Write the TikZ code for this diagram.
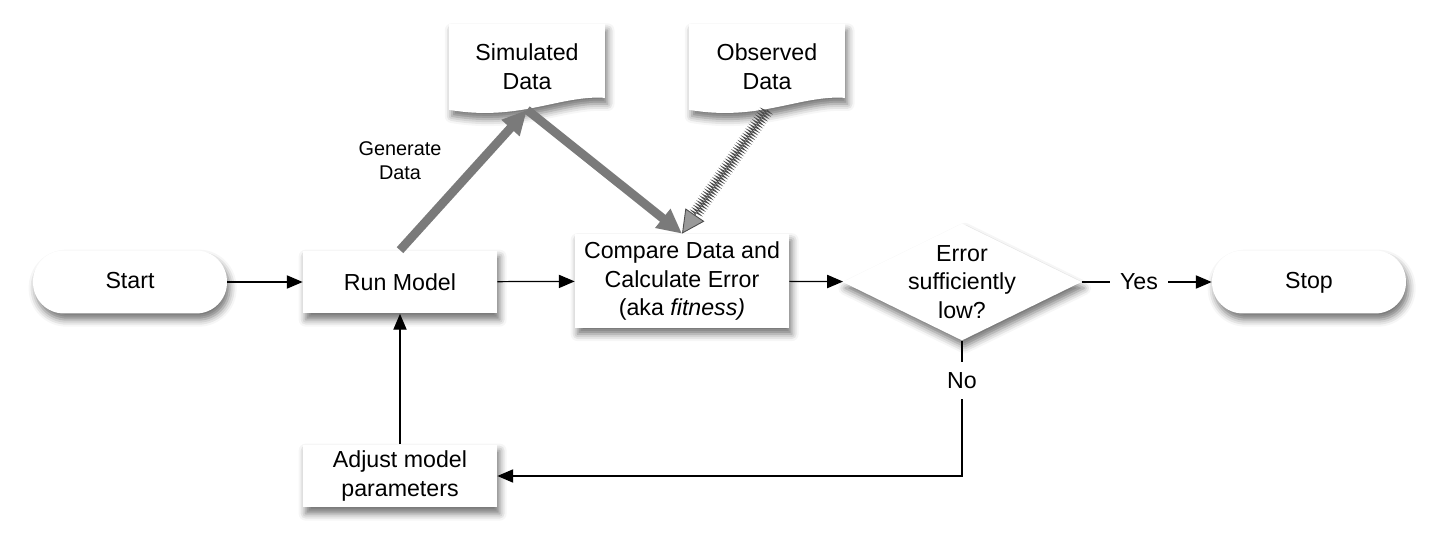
\documentclass[tikz,border=0pt]{standalone}
\usepackage{fontspec}
\setmainfont{Liberation Sans}
\usetikzlibrary{backgrounds,shapes.geometric,arrows.meta,shadows.blur,decorations.pathmorphing,calc}

\begin{document}
\begin{tikzpicture}
		[x=0.02cm, y=-0.02cm,
		 >={Triangle[length=9pt,width=7.5pt]},
		 every node/.style={font=\fontsize{13.2}{16.4}\selectfont, align=center},
		 shd/.style={blur shadow={shadow xshift=1.5pt, shadow yshift=-3.5pt, shadow blur radius=4pt, shadow opacity=55}},
		 term/.style={shd, fill=white, rounded corners=0.62cm, minimum width=3.88cm, minimum height=1.26cm,
		              text height=0.95em, text depth=0.2em},
		 proc/.style={shd, fill=white, minimum width=3.88cm, minimum height=1.26cm},
		 doc/.style={minimum width=3.1cm, minimum height=1.7cm},
		 decision/.style={shd, fill=white, diamond, aspect=2.04, minimum width=4.78cm, minimum height=2.34cm, inner sep=0pt},
		 flow/.style={->, line width=0.7pt},
		 feed/.style={-{Triangle[length=14pt,width=13pt]}, line width=5pt, draw=black!52},
		 hatch/.style={draw=black!70, line width=0.5pt, decorate,
		               decoration={zigzag, segment length=1.6pt, amplitude=2.6pt, post length=13pt},
		               -{Triangle[length=13pt,width=13pt,fill=black!40]}},
		 gap/.style={fill=white, inner sep=6pt}]

		\useasboundingbox (0,0) rectangle (1438,547);

		\node[term] (start) at (130,282) {Start};

		\node[proc] (run) at (400,282) {Run Model}
			edge [flow, <-]	(start)
		;

		\node[proc, minimum width=4.28cm, minimum height=1.88cm] (cmp) at (682,281)
			{Compare Data and\\Calculate Error\\(aka \textit{fitness)}}
			edge [flow, <-]	(run)
		;

		\node[decision, label={center:Error\\sufficiently\\low?}] (dec) at (962,282) {}
			edge [flow, <-]	(cmp)
		;

		\node[term] (stop) at (1309,282) {Stop};

		\node[proc] (adj) at (400,476) {Adjust model\\parameters}
			edge [flow]	(run)
		;

		\node[doc] (sim) at (527,67) {Simulated\\Data};
		\node[doc] (obs) at (767,67) {Observed\\Data};

		\node[font=\fontsize{11.3}{13.6}\selectfont] (gen) at (400,161) {Generate\\Data};

		\draw[flow] (dec) -- node[gap, pos=0.44] {Yes} (stop);
		\draw[flow] (dec.south) |- node[gap, pos=0.146] {No} (adj);

		\draw[feed] (run.north) -- (sim.south);
		\draw[feed] (sim.south) -- (cmp.north);
		\draw[hatch] (obs.south) -- (cmp.north);

		\begin{pgfonlayer}{background}
			\foreach \d in {sim,obs} {
				\path[shd, fill=white] (\d.north west) -- (\d.north east)
					-- ($(\d.south east)+(0,-12)$)
					.. controls ($(\d.south east)+(-45,-15)$) and ($(\d.south west)+(70,12)$) .. (\d.south west)
					-- cycle;
			}
		\end{pgfonlayer}

	\end{tikzpicture}
\end{document}
